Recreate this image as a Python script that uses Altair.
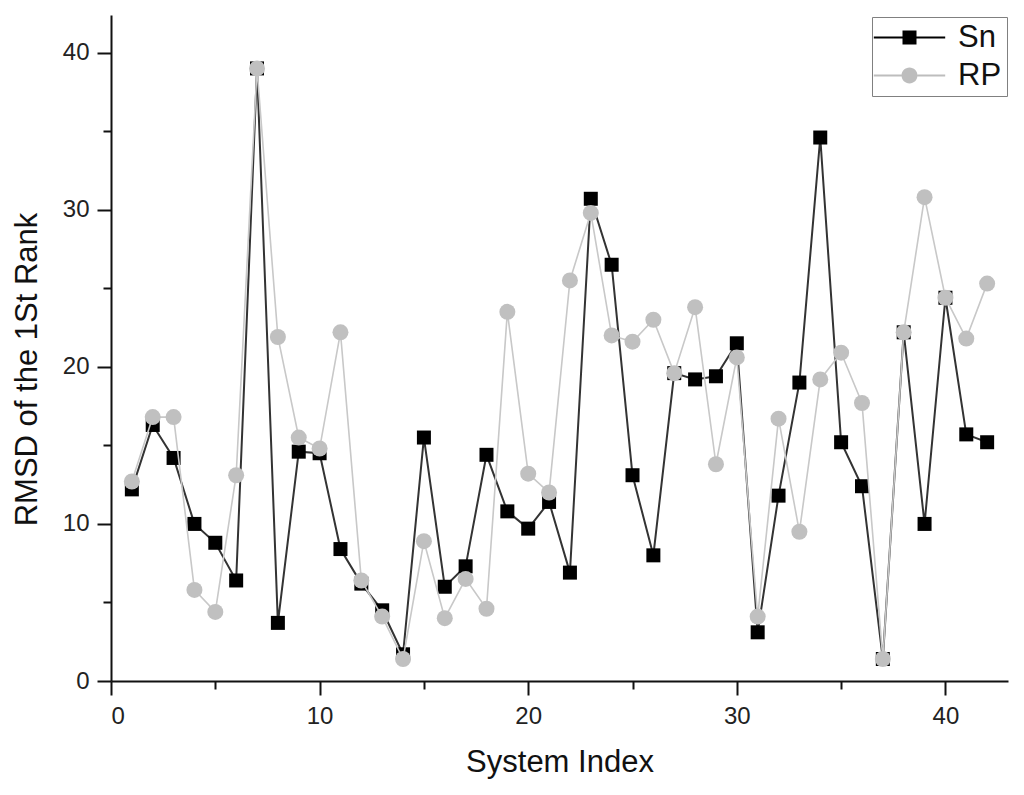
import altair as alt
import pandas as pd

# ---- data ----
system_index = list(range(1, 43))
sn_values = [12.2, 16.3, 14.2, 10.0, 8.8, 6.4, 39.0, 3.7, 14.6, 14.5,
             8.4, 6.2, 4.5, 1.7, 15.5, 6.0, 7.3, 14.4, 10.8, 9.7,
             11.4, 6.9, 30.7, 26.5, 13.1, 8.0, 19.6, 19.2, 19.4, 21.5,
             3.1, 11.8, 19.0, 34.6, 15.2, 12.4, 1.4, 22.2, 10.0, 24.4,
             15.7, 15.2]
rp_values = [12.7, 16.8, 16.8, 5.8, 4.4, 13.1, 39.0, 21.9, 15.5, 14.8,
             22.2, 6.4, 4.1, 1.4, 8.9, 4.0, 6.5, 4.6, 23.5, 13.2,
             12.0, 25.5, 29.8, 22.0, 21.6, 23.0, 19.6, 23.8, 13.8, 20.6,
             4.1, 16.7, 9.5, 19.2, 20.9, 17.7, 1.4, 22.2, 30.8, 24.4,
             21.8, 25.3]
series_names = ["Sn", "RP"]
major_x_ticks = [0, 10, 20, 30, 40]
minor_x_ticks = [5, 15, 25, 35]
major_y_ticks = [0, 10, 20, 30, 40]
minor_y_ticks = [5, 15, 25, 35]

df = pd.DataFrame({
    "x": system_index + system_index,
    "y": sn_values + rp_values,
    "series": ["Sn"] * len(sn_values) + ["RP"] * len(rp_values),
})

FONT = "Liberation Sans"
AX = "#111111"

xscale = alt.Scale(domain=[0, 43], nice=False, zero=False)
yscale = alt.Scale(domain=[0, 42.4], nice=False, zero=False)

x_axis = alt.Axis(values=major_x_ticks, format="d", orient="bottom", grid=False,
                  title="System Index", tickSize=14, tickWidth=2, tickColor=AX,
                  domainColor=AX, domainWidth=2, labelFont=FONT, labelFontSize=24,
                  labelColor="#222222", labelPadding=9, titleFont=FONT,
                  titleFontSize=31, titleFontWeight="normal", titleColor=AX,
                  titlePadding=19)
y_axis = alt.Axis(values=major_y_ticks, format="d", orient="left", grid=False,
                  title="RMSD of the 1St Rank", tickSize=14, tickWidth=2, tickColor=AX,
                  domainColor=AX, domainWidth=2, labelFont=FONT, labelFontSize=24,
                  labelColor="#222222", labelPadding=8, titleFont=FONT,
                  titleFontSize=31, titleFontWeight="normal", titleColor=AX,
                  titlePadding=19, titleY=354)
minor_x_axis = alt.Axis(values=minor_x_ticks, orient="bottom", grid=False, labels=False,
                        domain=False, title=None, tickSize=8, tickWidth=2, tickColor=AX)
minor_y_axis = alt.Axis(values=minor_y_ticks, orient="left", grid=False, labels=False,
                        domain=False, title=None, tickSize=8, tickWidth=2, tickColor=AX)

# legend symbols: marker with line segments on both sides (unit = 7px)
sn_path = ("M-1,-1L1,-1L1,1L-1,1Z "
           "M-5.1,-0.15L-1,-0.15L-1,0.15L-5.1,0.15Z "
           "M1,-0.15L5.1,-0.15L5.1,0.15L1,0.15Z")
rp_path = ("M-1.14,0A1.14,1.14 0 1,1 1.14,0A1.14,1.14 0 1,1 -1.14,0Z "
           "M-5.1,-0.15L-1.14,-0.15L-1.14,0.15L-5.1,0.15Z "
           "M1.14,-0.15L5.1,-0.15L5.1,0.15L1.14,0.15Z")

leg = alt.Legend(title=None, orient="none", legendX=761, legendY=2,
                 symbolSize=196, symbolOffset=17, labelOffset=33,
                 labelFont=FONT, labelFontSize=31, labelColor=AX,
                 padding=5, rowPadding=6, strokeColor="#808080",
                 fillColor="white", symbolStrokeWidth=0)

base = alt.Chart(df)
sn = base.transform_filter("datum.series == 'Sn'")
rp = base.transform_filter("datum.series == 'RP'")

sn_line = sn.mark_line(color="#333333", strokeWidth=2).encode(
    x=alt.X("x:Q", scale=xscale, axis=x_axis),
    y=alt.Y("y:Q", scale=yscale, axis=y_axis),
)
sn_pts = sn.mark_point(shape="square", filled=True, size=196, color="#000000",
                       opacity=1).encode(
    x=alt.X("x:Q", scale=xscale, axis=None),
    y=alt.Y("y:Q", scale=yscale, axis=None),
)
rp_line = rp.mark_line(color="#c8c8c8", strokeWidth=1.6).encode(
    x=alt.X("x:Q", scale=xscale, axis=None),
    y=alt.Y("y:Q", scale=yscale, axis=None),
)
rp_pts = rp.mark_point(shape="circle", filled=True, size=256, color="#c0c0c0",
                       opacity=1).encode(
    x=alt.X("x:Q", scale=xscale, axis=None),
    y=alt.Y("y:Q", scale=yscale, axis=None),
)
legend_layer = base.transform_filter("false").mark_point(filled=True, opacity=1).encode(
    x=alt.X("x:Q", scale=xscale, axis=minor_x_axis),
    y=alt.Y("y:Q", scale=yscale, axis=minor_y_axis),
    color=alt.Color("series:N", legend=leg,
                    scale=alt.Scale(domain=series_names, range=["#000000", "#bdbdbd"])),
    shape=alt.Shape("series:N", legend=leg,
                    scale=alt.Scale(domain=series_names, range=[sn_path, rp_path])),
)

chart = alt.layer(sn_line, sn_pts, rp_line, rp_pts, legend_layer).resolve_axis(
    x="independent", y="independent"
).properties(
    width=897, height=666,
    padding={"left": 103, "top": 7, "right": 8, "bottom": 100},
    autosize=alt.AutoSizeParams(type="none"),
).configure_view(stroke=None)

chart.save("out.html", embed_options={"renderer": "svg", "actions": False})
